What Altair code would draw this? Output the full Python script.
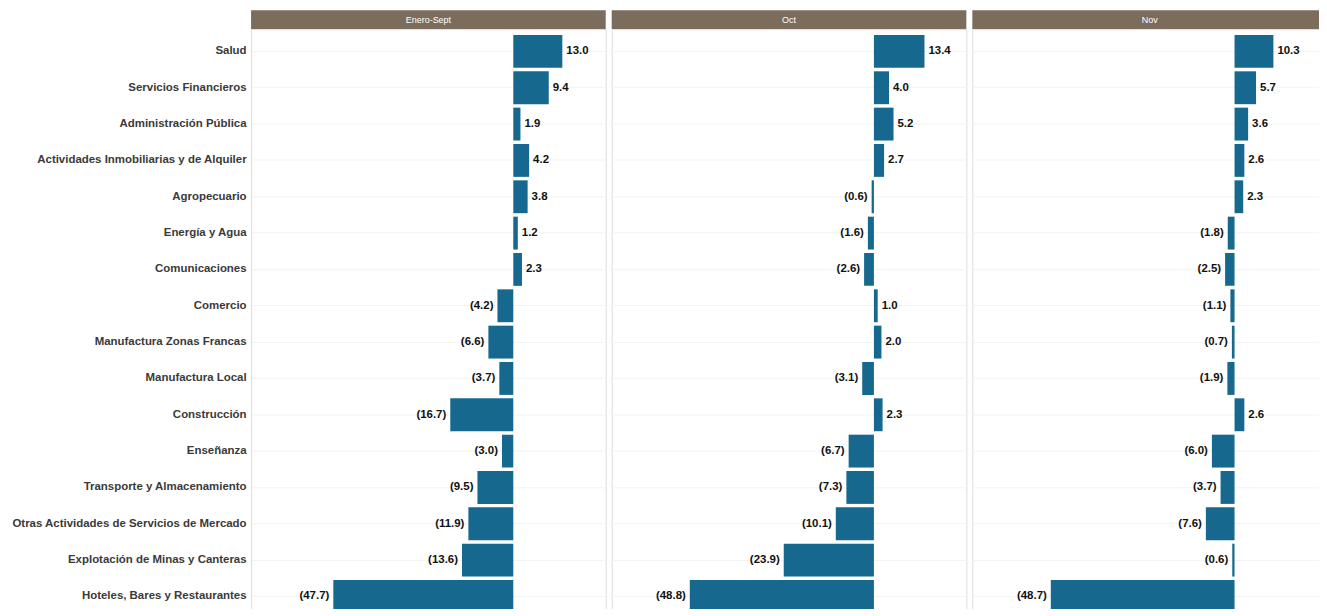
import altair as alt
import pandas as pd

categories = [
    "Salud", "Servicios Financieros", "Administración Pública",
    "Actividades Inmobiliarias y de Alquiler", "Agropecuario", "Energía y Agua",
    "Comunicaciones", "Comercio", "Manufactura Zonas Francas", "Manufactura Local",
    "Construcción", "Enseñanza", "Transporte y Almacenamiento",
    "Otras Actividades de Servicios de Mercado", "Explotación de Minas y Canteras",
    "Hoteles, Bares y Restaurantes",
]
periods = ["Enero-Sept", "Oct", "Nov"]
vals_ene_sep = [13.0, 9.4, 1.9, 4.2, 3.8, 1.2, 2.3, -4.2, -6.6, -3.7, -16.7, -3.0, -9.5, -11.9, -13.6, -47.7]
vals_oct = [13.4, 4.0, 5.2, 2.7, -0.6, -1.6, -2.6, 1.0, 2.0, -3.1, 2.3, -6.7, -7.3, -10.1, -23.9, -48.8]
vals_nov = [10.3, 5.7, 3.6, 2.6, 2.3, -1.8, -2.5, -1.1, -0.7, -1.9, 2.6, -6.0, -3.7, -7.6, -0.6, -48.7]

series = {"Enero-Sept": vals_ene_sep, "Oct": vals_oct, "Nov": vals_nov}

BAR = "#17688f"
HEAD = "#7c6c5c"
W, H = 356, 592
FONT = "Liberation Sans"


def panel(name, first):
    df = pd.DataFrame({"cat": categories, "v": series[name]})
    base = alt.Chart(df).transform_calculate(
        lab="datum.v < 0 ? '(' + format(-datum.v, '.1f') + ')' : format(datum.v, '.1f')"
    )
    if first:
        yaxis = alt.Axis(title=None, labelFont=FONT, labelFontSize=11.5, labelFontWeight="bold",
                         labelColor="#3a3a3a", ticks=False, domain=False, labelPadding=5,
                         minExtent=243, maxExtent=243, labelLimit=300,
                         grid=True, gridColor="#f3f3f3")
    else:
        yaxis = alt.Axis(title=None, labels=False, ticks=False, domain=False,
                         grid=True, gridColor="#f3f3f3")
    y = alt.Y("cat:N", sort=categories, axis=yaxis,
              scale=alt.Scale(paddingInner=0.1, paddingOuter=0.165))
    x = alt.X("v:Q", axis=None, scale=alt.Scale(domain=[-69.5, 24.5], nice=False, zero=False))
    bars = base.mark_bar(color=BAR, size=33).encode(x=x, x2=alt.datum(0), y=y)
    pos = base.transform_filter("datum.v >= 0").mark_text(
        align="left", dx=4, font=FONT, fontSize=11.5, fontWeight="bold", color="#111"
    ).encode(x=x, y=y, text="lab:N")
    neg = base.transform_filter("datum.v < 0").mark_text(
        align="right", dx=-4, font=FONT, fontSize=11.5, fontWeight="bold", color="#111"
    ).encode(x=x, y=y, text="lab:N")
    hdf = pd.DataFrame({"p": [name]})
    head = alt.Chart(hdf).mark_rect(color=HEAD, clip=False).encode(
        x=alt.value(0), x2=alt.value(W), y=alt.value(-19), y2=alt.value(0)
    )
    htxt = alt.Chart(hdf).mark_text(color="white", font=FONT, fontSize=9, baseline="middle", clip=False).encode(
        x=alt.value(W / 2), y=alt.value(-9.5), text="p:N"
    )
    return alt.layer(head, htxt, bars, pos, neg).properties(width=W, height=H)


chart = alt.hconcat(
    *[panel(p, i == 0) for i, p in enumerate(periods)], spacing=4
).properties(
    padding={"top": 0, "left": 0, "right": -9, "bottom": -12}
).configure_view(stroke="#9a9a9a", strokeWidth=1).configure(background="white")

chart.save("out.html", embed_options={"renderer": "svg", "actions": False})
